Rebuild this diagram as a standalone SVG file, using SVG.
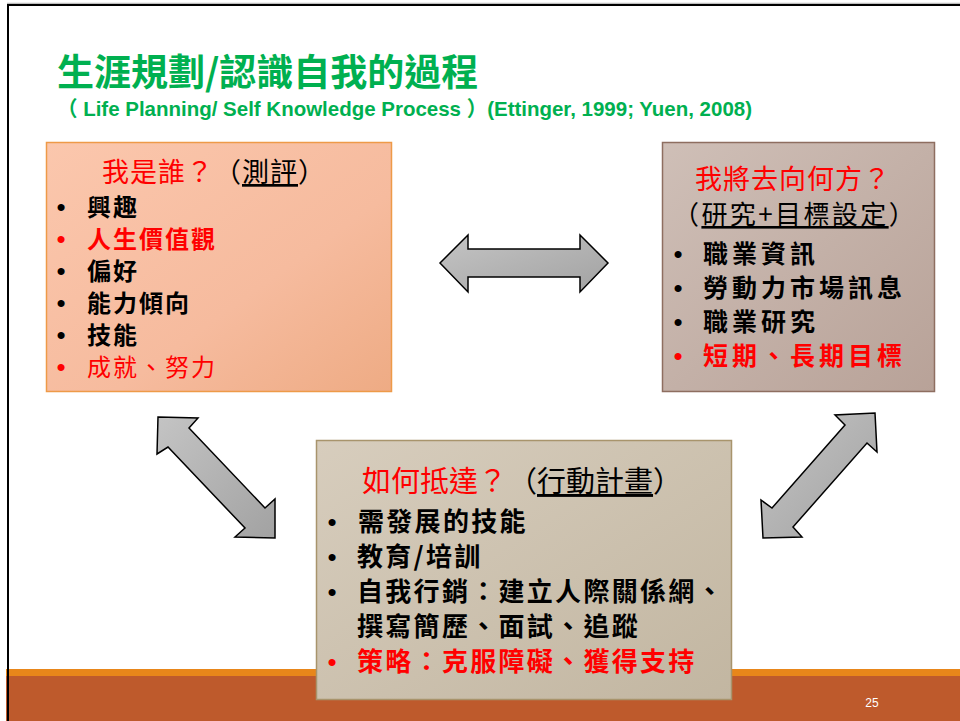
<svg xmlns="http://www.w3.org/2000/svg" width="960" height="721" viewBox="0 0 960 721">
<defs>
<linearGradient id="gLeft" x1="0" y1="0" x2="1" y2="1">
<stop offset="0" stop-color="#FBC7AD"/><stop offset="0.6" stop-color="#F6BB9E"/><stop offset="1" stop-color="#EEAB84"/>
</linearGradient>
<linearGradient id="gRight" x1="0" y1="0" x2="1" y2="1">
<stop offset="0" stop-color="#CFBFB7"/><stop offset="1" stop-color="#B8A298"/>
</linearGradient>
<linearGradient id="gBottom" x1="0" y1="0" x2="1" y2="1">
<stop offset="0" stop-color="#D7CDBD"/><stop offset="1" stop-color="#C2B6A1"/>
</linearGradient>
<linearGradient id="gArrow" x1="0" y1="0" x2="1" y2="1">
<stop offset="0" stop-color="#C4C4C4"/><stop offset="1" stop-color="#A2A2A2"/>
</linearGradient>
<style>
.cjk{font-family:"Noto Sans CJK TC","Noto Sans CJK SC",sans-serif;}
.title{font-family:"Noto Sans CJK TC","Noto Sans CJK SC",sans-serif;font-weight:700;fill:#00B050;}
.sub{font-family:"Liberation Sans","Noto Sans CJK TC",sans-serif;font-weight:700;fill:#00B050;}
.red{fill:#FF0000;}
.blk{fill:#000000;}
.bul{font-family:"Liberation Sans",sans-serif;}
.arrow{fill:url(#gArrow);stroke:#000;stroke-width:1.5;stroke-linejoin:miter;}
.u{text-decoration:underline;}
</style>
</defs>
<rect x="0" y="0" width="960" height="721" fill="#FFFFFF"/>
<g id="frame">
<line x1="7" y1="3.5" x2="960" y2="3.5" stroke="#BDBDBD" stroke-width="1.5"/>
<rect x="6" y="669" width="954" height="7" fill="#E8861A"/>
<rect x="6" y="676" width="954" height="45" fill="#BE5A2C"/>
<line x1="7" y1="5" x2="960" y2="5" stroke="#000" stroke-width="2"/>
<line x1="8" y1="4" x2="8" y2="721" stroke="#000" stroke-width="2"/>
<text x="872" y="707" font-family="Liberation Sans, sans-serif" font-size="12" fill="#FFFFFF" text-anchor="middle">25</text>
</g>
<g id="heading">
<text class="title" x="57" y="86" font-size="37">生涯規劃/認識自我的過程</text>
<text class="sub" x="57" y="116" font-size="21" textLength="695" lengthAdjust="spacingAndGlyphs">（ Life Planning/ Self Knowledge Process ）(Ettinger, 1999; Yuen, 2008)</text>
</g>
<g id="connectors">
<polygon class="arrow" points="440,263 468,235 468,249 580,249 580,235 608,263 580,292 580,277 468,277 468,292"/>
<polygon class="arrow" points="158,417 198,418 189,428 265,508 275,499 275,538 235,537 245,528 168,447 157,454"/>
<polygon class="arrow" points="875,413 877,452 867,443 793,527 802,537 763,538 761,500 772,508 845,425 835,415"/>
</g>
<g id="who">
<rect x="46.5" y="142.5" width="345" height="249" fill="url(#gLeft)" stroke="#EE9A48" stroke-width="1.5"/>
<text class="cjk" x="102" y="182" font-size="27" letter-spacing="1"><tspan class="red">我是誰？</tspan><tspan class="blk" x="214">（<tspan class="u">測評</tspan>）</tspan></text>
<g class="bul" font-size="26" text-anchor="middle">
<text x="61" y="216" class="blk">•</text>
<text x="61" y="248" class="red">•</text>
<text x="61" y="280" class="blk">•</text>
<text x="61" y="312" class="blk">•</text>
<text x="61" y="344" class="blk">•</text>
<text x="61" y="376" class="red">•</text>
</g>
<g class="cjk" font-size="24" letter-spacing="2" font-weight="700">
<text x="87" y="216" class="blk">興趣</text>
<text x="87" y="248" class="red">人生價值觀</text>
<text x="87" y="280" class="blk">偏好</text>
<text x="87" y="312" class="blk">能力傾向</text>
<text x="87" y="344" class="blk">技能</text>
<text x="87" y="376" class="red" font-weight="400">成就、努力</text>
</g>
</g>
<g id="where">
<rect x="662.5" y="142.5" width="272" height="249" fill="url(#gRight)" stroke="#8E6E60" stroke-width="1.5"/>
<text class="cjk red" x="695" y="189" font-size="27" letter-spacing="1">我將去向何方？</text>
<text class="cjk blk" x="673" y="224" font-size="26" letter-spacing="2.4">（<tspan class="u">研究+目標設定</tspan>）</text>
<g class="bul" font-size="26" text-anchor="middle">
<text x="678" y="263" class="blk">•</text>
<text x="678" y="297" class="blk">•</text>
<text x="678" y="331" class="blk">•</text>
<text x="678" y="365" class="red">•</text>
</g>
<g class="cjk" font-size="25" letter-spacing="4" font-weight="700">
<text x="703" y="263" class="blk">職業資訊</text>
<text x="703" y="297" class="blk">勞動力市場訊息</text>
<text x="703" y="331" class="blk">職業研究</text>
<text x="703" y="365" class="red">短期、長期目標</text>
</g>
</g>
<g id="how">
<rect x="316.5" y="440.5" width="415" height="259" fill="url(#gBottom)" stroke="#A8946C" stroke-width="1.5"/>
<text class="cjk" x="362" y="492" font-size="29"><tspan class="red">如何抵達？</tspan><tspan class="blk" x="508">（<tspan class="u">行動計畫</tspan>）</tspan></text>
<g class="bul" font-size="26" text-anchor="middle">
<text x="332" y="531" class="blk">•</text>
<text x="332" y="566" class="blk">•</text>
<text x="332" y="601" class="blk">•</text>
<text x="332" y="671" class="red">•</text>
</g>
<g class="cjk" font-size="26" letter-spacing="2.3" font-weight="700">
<text x="358" y="531" class="blk">需發展的技能</text>
<text x="357" y="566" class="blk">教育/培訓</text>
<text x="357" y="601" class="blk">自我行銷：建立人際關係網、</text>
<text x="357" y="636" class="blk">撰寫簡歷、面試、追蹤</text>
<text x="357" y="671" class="red">策略：克服障礙、獲得支持</text>
</g>
</g>
</svg>
